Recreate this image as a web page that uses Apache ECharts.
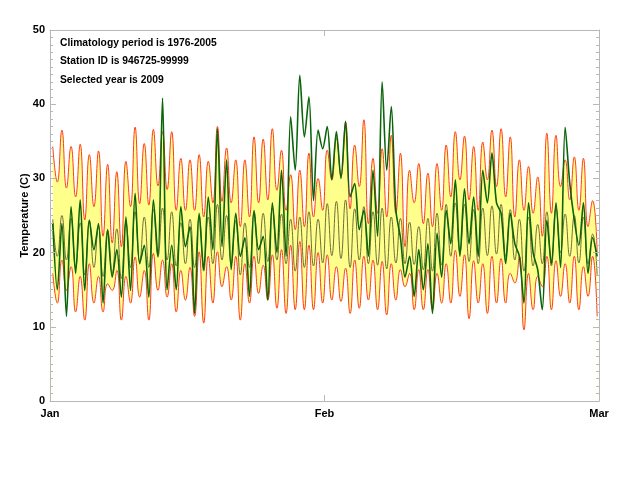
<!DOCTYPE html>
<html>
<head>
<meta charset="utf-8">
<script src="https://cdn.jsdelivr.net/npm/echarts@6/dist/echarts.min.js"></script>
<style>
  html, body { margin: 0; padding: 0; background: #fff; }
  #chart { width: 628px; height: 482px; }
</style>
</head>
<body>
<div id="chart"></div>
<script>
  // month labels on the x axis (0, 30, 60 days)
  var monthLabels = ['Jan', 'Feb', 'Mar'];

  // climatology upper bound: daily highs and lows of the curve
  var upHi = [34.3, 36.5, 34.3, 34.6, 33.2, 33.7, 31.9, 30.9, 32.3, 36.9, 34.7, 36.6, 36.3, 36.3, 32.7,
              32.5, 33.2, 32.3, 37.0, 34.1, 32.5, 32.5, 35.6, 35.3, 36.7, 33.8, 30.5, 31.1, 33.4, 30.0,
              33.8, 35.4, 37.6, 34.5, 37.9, 32.7, 34.0, 35.8, 33.4, 31.1, 32.0, 30.7, 32.0, 34.5, 36.3,
              35.7, 34.3, 34.9, 36.5, 36.7, 35.6, 32.5, 31.6, 30.2, 36.1, 35.8, 32.5, 32.9, 32.7, 27.0];
  var upLo = [29.5, 28.7, 27.5, 24.4, 26.2, 22.2, 21.3, 20.8, 26.2, 26.6, 26.4, 29.0, 28.5, 25.7, 25.7,
              25.7, 24.8, 26.7, 26.9, 26.7, 23.5, 24.8, 26.7, 27.1, 28.4, 25.7, 23.1, 23.5, 24.8, 25.7,
              29.8, 30.3, 25.9, 28.9, 23.9, 25.3, 24.8, 25.3, 20.8, 26.7, 23.9, 23.5, 25.7, 27.5, 29.8,
              27.1, 25.7, 29.8, 28.9, 27.5, 24.8, 25.7, 25.3, 22.2, 25.3, 28.9, 27.1, 25.7, 23.5, 20.0];

  // climatology lower bound
  var loHi = [17.2, 19.0, 18.1, 16.8, 18.5, 16.8, 15.8, 17.6, 16.8, 19.4, 17.6, 19.9, 19.0, 18.5, 17.6,
              18.0, 20.1, 19.5, 20.1, 18.1, 19.5, 18.5, 19.5, 18.3, 19.7, 20.4, 21.0, 21.5, 21.0, 20.0,
              19.7, 18.1, 17.9, 19.0, 19.5, 19.0, 18.8, 18.5, 17.7, 17.2, 17.7, 17.7, 17.2, 18.5, 20.3,
              19.7, 18.9, 18.5, 19.5, 19.2, 17.2, 19.5, 17.2, 16.8, 19.5, 18.9, 18.5, 19.5, 18.1, 19.5];
  var loLo = [13.2, 14.9, 12.0, 10.9, 13.2, 12.0, 14.9, 10.9, 13.2, 14.0, 10.9, 14.9, 14.0, 12.0, 13.6,
              11.4, 10.5, 13.2, 15.4, 13.6, 10.9, 13.2, 14.5, 13.6, 12.5, 11.8, 12.3, 12.3, 12.3, 13.2,
              13.6, 13.4, 11.8, 12.5, 13.6, 12.3, 11.6, 13.6, 15.4, 12.3, 12.3, 12.3, 13.2, 13.2, 14.1,
              11.1, 13.2, 11.8, 13.2, 13.2, 15.9, 9.6, 12.3, 15.4, 12.3, 14.1, 13.2, 12.3, 14.1, 11.4];

  // climatology mean
  var meanHi = [24.5, 25.0, 24.6, 24.0, 24.3, 23.5, 23.0, 23.2, 24.0, 25.5, 24.8, 25.8, 26.0, 25.5, 24.0,
                24.5, 25.0, 24.8, 26.5, 25.0, 24.3, 24.0, 25.5, 25.3, 26.0, 25.2, 24.5, 24.8, 25.5, 24.5,
                26.6, 26.9, 27.1, 25.9, 26.2, 25.5, 26.0, 24.8, 24.6, 24.1, 23.5, 24.6, 25.3, 26.5, 26.7,
                26.5, 25.8, 26.0, 26.3, 26.5, 25.8, 24.5, 24.8, 23.8, 25.5, 26.0, 25.2, 25.0, 24.8, 22.5];
  var meanLo = [19.5, 19.0, 18.0, 17.0, 18.0, 16.8, 17.2, 16.5, 18.0, 18.8, 18.0, 19.5, 19.0, 18.2, 18.5,
                18.0, 17.5, 18.5, 19.0, 18.5, 17.0, 18.0, 18.5, 18.8, 19.0, 18.5, 17.5, 18.0, 18.2, 18.6,
                19.6, 19.2, 18.0, 19.0, 18.5, 18.3, 17.8, 18.6, 18.5, 18.4, 17.7, 17.5, 18.3, 19.5, 20.0,
                18.8, 18.5, 19.6, 19.8, 19.5, 19.0, 17.5, 18.2, 18.5, 18.2, 20.0, 19.5, 18.6, 18.5, 17.0];

  // selected year 2009
  var obsHi = [24.0, 23.9, 26.2, 27.1, 24.4, 23.9, 23.1, 20.4, 24.8, 28.0, 21.0, 27.1, 40.8, 21.0, 26.2,
               23.5, 25.3, 27.5, 36.7, 32.5, 25.3, 22.0, 25.7, 22.2, 26.7, 31.1, 38.3, 43.9, 41.0, 36.5,
               37.0, 36.3, 37.7, 29.3, 25.7, 31.1, 43.0, 39.7, 22.0, 19.5, 20.4, 21.2, 22.6, 25.7, 29.8,
               28.6, 27.5, 31.1, 33.4, 25.3, 25.3, 19.5, 26.7, 17.7, 24.4, 26.7, 36.9, 24.4, 26.7, 22.0];
  var obsLo = [15.0, 11.4, 17.2, 14.9, 20.4, 13.2, 16.7, 14.0, 14.9, 18.5, 14.0, 19.4, 15.0, 15.0, 20.8,
               11.8, 17.7, 20.4, 20.8, 17.7, 19.5, 14.1, 20.4, 13.6, 20.0, 19.5, 31.1, 35.6, 27.0, 34.0,
               29.8, 30.0, 27.5, 23.1, 19.5, 22.2, 31.1, 25.7, 16.7, 14.1, 15.0, 11.8, 16.7, 21.2, 19.5,
               21.2, 19.5, 26.7, 26.7, 18.5, 21.2, 13.2, 20.0, 12.3, 18.5, 18.0, 29.4, 21.0, 17.2, 19.5];

  // daily peak in the afternoon, low before dawn of the next day
  function daily(hi, lo) {
    var pts = [];
    for (var i = 0; i < hi.length; i++) {
      pts.push([i + 0.3, hi[i]]);
      pts.push([i + 0.8, lo[i]]);
    }
    return pts;
  }

  var chart = echarts.init(document.getElementById('chart'));
  var axisGrey = '#b8b8b8';
  var labelFont = { color: '#000', fontWeight: 'bold', fontSize: 11, fontFamily: 'Liberation Sans' };
  var textFont = 'bold 10.3px "Liberation Sans"';

  // same look for the box sides; only the bottom and left carry labels
  function xSide(pos, labels) {
    return {
      type: 'value', min: 0, max: 60, interval: 30, position: pos, z: 10,
      axisLine: { onZero: false, lineStyle: { color: axisGrey } },
      axisTick: { inside: true, length: 6, lineStyle: { color: axisGrey } },
      axisLabel: labels ? Object.assign({ margin: 7, formatter: function (v) { return monthLabels[v / 30]; } }, labelFont) : { show: false },
      splitLine: { show: false }
    };
  }
  function ySide(pos, labels) {
    var ax = {
      type: 'value', min: 0, max: 50, interval: 10, position: pos, z: 10,
      axisLine: { onZero: false, lineStyle: { color: axisGrey } },
      axisTick: { inside: true, length: 6, lineStyle: { color: axisGrey } },
      minorTick: { show: true, splitNumber: 10, length: 3, lineStyle: { color: axisGrey } },
      axisLabel: labels ? Object.assign({ margin: 5 }, labelFont) : { show: false },
      splitLine: { show: false }
    };
    if (labels) {
      ax.name = 'Temperature (C)';
      ax.nameLocation = 'middle';
      ax.nameGap = 20;
      ax.nameMoveOverlap = false;
      ax.nameTextStyle = { color: '#000', fontWeight: 'bold', fontSize: 11, fontFamily: 'Liberation Sans' };
    }
    return ax;
  }

  chart.setOption({
    animation: false,
    grid: { left: 50, right: 29, top: 30, bottom: 81 },
    xAxis: [xSide('bottom', true), xSide('top', false)],
    yAxis: [ySide('left', true), ySide('right', false)],
    graphic: [
      { type: 'text', left: 60, top: 38, style: { text: 'Climatology period is 1976-2005', font: textFont, fill: '#000' } },
      { type: 'text', left: 60, top: 56, style: { text: 'Station ID is 946725-99999', font: textFont, fill: '#000' } },
      { type: 'text', left: 60, top: 75, style: { text: 'Selected year is 2009', font: textFont, fill: '#000' } }
    ],
    series: [
      {
        name: 'upper', type: 'line', data: daily(upHi, upLo), smooth: 0.5, symbol: 'none',
        lineStyle: { color: '#ff3b1c', width: 1 },
        areaStyle: { color: '#ffff8c', opacity: 1, origin: 'start' }
      },
      {
        name: 'lower', type: 'line', data: daily(loHi, loLo), smooth: 0.5, symbol: 'none',
        lineStyle: { color: '#ff3b1c', width: 1 },
        areaStyle: { color: '#ffffff', opacity: 1, origin: 'start' }
      },
      {
        name: 'mean', type: 'line', data: daily(meanHi, meanLo), smooth: 0.5, symbol: 'none',
        lineStyle: { color: '#6f6f3c', width: 1 }
      },
      {
        name: '2009', type: 'line', data: daily(obsHi, obsLo), smooth: 0.3, symbol: 'none',
        lineStyle: { color: '#0a640a', width: 1.6 }
      }
    ]
  });
</script>
</body>
</html>
